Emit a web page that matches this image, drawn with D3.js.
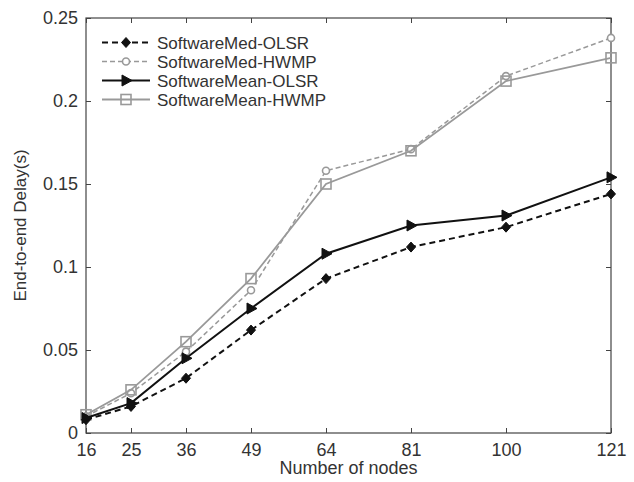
<!DOCTYPE html>
<html>
<head>
<meta charset="utf-8">
<script src="https://cdn.jsdelivr.net/npm/d3@7"></script>
<style>
  html, body { margin: 0; padding: 0; background: #fff; }
  svg { display: block; }
  text { font-family: "Liberation Sans", Arial, sans-serif; fill: #333; }
</style>
</head>
<body>
<svg id="chart" width="634" height="482"></svg>
<script>
// Number of nodes in the network
const nodes = [16, 25, 36, 49, 64, 81, 100, 121];

// End-to-end delay (s) per routing scheme
const medOLSR  = [0.008, 0.016, 0.033, 0.062, 0.093, 0.112, 0.124, 0.144];
const medHWMP  = [0.010, 0.024, 0.049, 0.086, 0.158, 0.171, 0.215, 0.238];
const meanOLSR = [0.009, 0.018, 0.045, 0.075, 0.108, 0.125, 0.131, 0.154];
const meanHWMP = [0.011, 0.026, 0.055, 0.093, 0.150, 0.170, 0.212, 0.226];

const yTicks = [0, 0.05, 0.1, 0.15, 0.2, 0.25];
const yTickLabels = ["0", "0.05", "0.1", "0.15", "0.2", "0.25"];

const seriesNames = ["SoftwareMed-OLSR", "SoftwareMed-HWMP", "SoftwareMean-OLSR", "SoftwareMean-HWMP"];

const styles = [
  { color: "#111", width: 2,   dash: "6,4", marker: "diamond" },
  { color: "#999", width: 1.5, dash: "5,3", marker: "circle" },
  { color: "#111", width: 2,   dash: null,  marker: "triangle" },
  { color: "#999", width: 1.8, dash: null,  marker: "square" }
];
const seriesValues = [medOLSR, medHWMP, meanOLSR, meanHWMP];

const svg = d3.select("#chart");
const plotLeft = 86, plotRight = 611, plotTop = 18, plotBottom = 433;

const x = d3.scaleLinear().domain([16, 121]).range([plotLeft, plotRight]);
const y = d3.scaleLinear().domain([0, 0.25]).range([plotBottom, plotTop]);

const axisColor = "#444";

// Box frame
svg.append("rect")
  .attr("x", plotLeft).attr("y", plotTop)
  .attr("width", plotRight - plotLeft).attr("height", plotBottom - plotTop)
  .attr("fill", "none").attr("stroke", axisColor).attr("stroke-width", 1.2);

// Axes with inward ticks, mirrored on the opposite sides
const tickLen = 5;
const fmtY = (d) => yTickLabels[yTicks.indexOf(d)];

const xAxis = svg.append("g").attr("transform", `translate(0,${plotBottom})`)
  .call(d3.axisBottom(x).tickValues(nodes).tickFormat(d3.format("d")).tickSizeInner(-tickLen).tickSizeOuter(0).tickPadding(10));
const xAxisTop = svg.append("g").attr("transform", `translate(0,${plotTop})`)
  .call(d3.axisTop(x).tickValues(nodes).tickFormat("").tickSizeInner(-tickLen).tickSizeOuter(0));
const yAxis = svg.append("g").attr("transform", `translate(${plotLeft},0)`)
  .call(d3.axisLeft(y).tickValues(yTicks).tickFormat(fmtY).tickSizeInner(-tickLen).tickSizeOuter(0).tickPadding(8));
const yAxisRight = svg.append("g").attr("transform", `translate(${plotRight},0)`)
  .call(d3.axisRight(y).tickValues(yTicks).tickFormat("").tickSizeInner(-tickLen).tickSizeOuter(0));

[xAxis, xAxisTop, yAxis, yAxisRight].forEach(g => {
  g.select(".domain").remove();
  g.selectAll(".tick line").attr("stroke", axisColor).attr("stroke-width", 1);
  g.selectAll(".tick text").attr("font-size", 18).attr("fill", "#333")
    .style("font-family", "'Liberation Sans', Arial, sans-serif");
});

// Axis titles
svg.append("text")
  .attr("x", (plotLeft + plotRight) / 2).attr("y", 474)
  .attr("text-anchor", "middle").attr("font-size", 18)
  .text("Number of nodes");

svg.append("text")
  .attr("transform", `translate(26,${(plotTop + plotBottom) / 2}) rotate(-90)`)
  .attr("text-anchor", "middle").attr("font-size", 17).attr("fill", "#555")
  .text("End-to-end Delay(s)");

// Marker drawing
function drawMarker(g, type, cx, cy, color) {
  if (type === "diamond") {
    g.append("path")
      .attr("d", `M${cx},${cy - 5}L${cx + 4.5},${cy}L${cx},${cy + 5}L${cx - 4.5},${cy}Z`)
      .attr("fill", color).attr("stroke", color).attr("stroke-width", 1);
  } else if (type === "circle") {
    g.append("circle").attr("cx", cx).attr("cy", cy).attr("r", 3.5)
      .attr("fill", "#fff").attr("stroke", color).attr("stroke-width", 1.6);
  } else if (type === "triangle") {
    g.append("path")
      .attr("d", `M${cx + 6},${cy}L${cx - 4},${cy - 5.5}L${cx - 4},${cy + 5.5}Z`)
      .attr("fill", color).attr("stroke", color).attr("stroke-width", 1);
  } else if (type === "square") {
    g.append("rect").attr("x", cx - 5).attr("y", cy - 5).attr("width", 10).attr("height", 10)
      .attr("fill", "none").attr("stroke", color).attr("stroke-width", 1.6);
  }
}

const line = d3.line().x(d => x(d[0])).y(d => y(d[1]));

// Draw grey series first so black lines sit on top
[1, 3, 0, 2].forEach(i => {
  const s = styles[i];
  const pts = nodes.map((n, k) => [n, seriesValues[i][k]]);
  const g = svg.append("g");
  g.append("path").datum(pts)
    .attr("d", line)
    .attr("fill", "none")
    .attr("stroke", s.color)
    .attr("stroke-width", s.width)
    .attr("stroke-dasharray", s.dash);
  pts.forEach(p => drawMarker(g, s.marker, x(p[0]), y(p[1]), s.color));
});

// Legend
const legend = svg.append("g");
seriesNames.forEach((name, i) => {
  const s = styles[i];
  const ly = 42.5 + i * 19;
  legend.append("line")
    .attr("x1", 102).attr("x2", 150).attr("y1", ly).attr("y2", ly)
    .attr("stroke", s.color).attr("stroke-width", s.width)
    .attr("stroke-dasharray", s.dash);
  drawMarker(legend, s.marker, 126, ly, s.color);
  legend.append("text")
    .attr("x", 157).attr("y", ly + 6)
    .attr("font-size", 17)
    .text(name);
});
</script>
</body>
</html>
